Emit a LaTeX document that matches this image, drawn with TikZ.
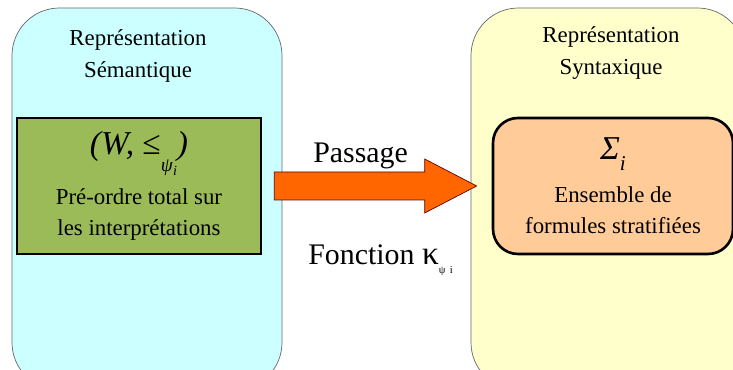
\documentclass[tikz,border=0pt]{standalone}
\usepackage{fontspec}
\setmainfont{Liberation Serif}
\usepackage{tikz}
\usetikzlibrary{calc}
\usetikzlibrary{positioning}
\definecolor{semcyan}{HTML}{CCFFFF}
\definecolor{synyellow}{HTML}{FFFFCC}
\definecolor{ordgreen}{HTML}{9BBB59}
\definecolor{formorange}{HTML}{FFCC99}
\definecolor{passorange}{HTML}{FF6600}
\tikzstyle{reprbox} = [rectangle, rounded corners=0.95cm, minimum width=5.4cm, minimum height=7.64cm, draw=black!60, thin]
\tikzstyle{order} = [rectangle, minimum width=4.88cm, minimum height=2.72cm, text centered, align=center, draw=black, line width=1.5pt, fill=ordgreen]
\tikzstyle{formulas} = [rectangle, rounded corners=0.5cm, minimum width=4.8cm, minimum height=2.72cm, text centered, align=center, draw=black, line width=1.5pt, fill=formorange]
\tikzstyle{heading} = [align=center, font=\fontsize{13}{18}\selectfont]
\tikzstyle{bigtext} = [font=\fontsize{17}{20}\selectfont, anchor=base west, inner sep=0pt]
\tikzstyle{passarrow} = [draw=black!60!red, thin, fill=passorange]

\begin{document}
\begin{tikzpicture}
\useasboundingbox (0,0) rectangle (14.66,-7.4);
\clip (0,0) rectangle (14.66,-7.4);

\node (sem) [reprbox, fill=semcyan] at (2.94,-3.98) {};
\node (syn) [reprbox, fill=synyellow, minimum width=5.48cm] at (12.16,-3.98) {};

\node (semtitle) [heading] at (2.76,-1.12) {Représentation\\Sémantique};
\node (syntitle) [heading] at (12.22,-1.06) {Représentation\\Syntaxique};

\node (preorder) [order, font=\fontsize{13}{18}\selectfont] at (2.78,-3.72) {%
  \fontsize{19}{20}\selectfont\textit{(W,} ≤\raisebox{-1.1ex}{\fontsize{11}{11}\selectfont\textit{ψ}\raisebox{-0.5ex}{\fontsize{8}{8}\selectfont\textit{i}}}\textit{)}\\[6pt]
  \fontsize{13}{18}\selectfont Pré-ordre total sur\\les interprétations};

\node (strat) [formulas, font=\fontsize{13}{18}\selectfont] at (12.26,-3.72) {%
  \fontsize{19}{20}\selectfont\textit{Σ}\raisebox{-0.7ex}{\fontsize{12}{12}\selectfont\textit{i}}\\[6pt]
  \fontsize{13}{18}\selectfont Ensemble de\\formules stratifiées};

% block arrow between the two boxes
\coordinate [right=0.24cm of preorder] (passstart);
\coordinate [left=0.3cm of strat] (passend);
\coordinate (passmid) at ($(passstart)!0.5!(passend)$);
\draw [passarrow] ($(passstart)+(0,0.28)$) -- ($(passend)+(-1.04,0.28)$) -- ($(passend)+(-1.04,0.54)$) -- (passend)
  -- ($(passend)+(-1.04,-0.54)$) -- ($(passend)+(-1.04,-0.28)$) -- ($(passstart)+(0,-0.28)$) -- cycle;

\node (passlabel) [bigtext] at ($(passmid)+(-1.25,0.46)$) {Passage};
\node (kappalabel) [bigtext] at ($(passmid)+(-1.35,-1.58)$) {Fonction {\fontsize{19}{20}\selectfont κ}\raisebox{-0.6ex}{\fontsize{6}{6}\selectfont ψ\, i}};

\end{tikzpicture}
\end{document}
